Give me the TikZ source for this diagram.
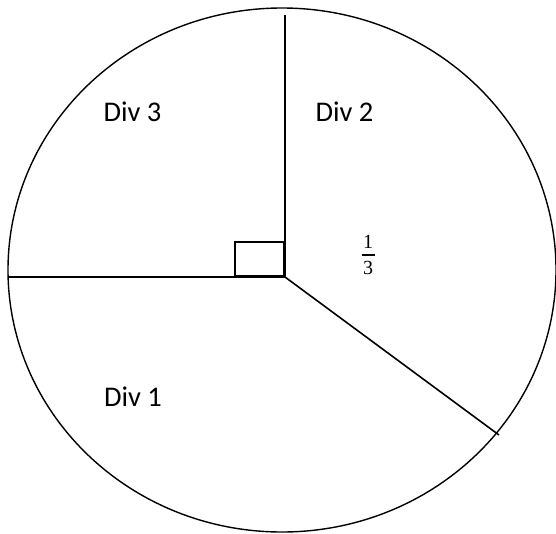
\documentclass[tikz,border=0pt]{standalone}
\usepackage{fontspec}
\setmainfont{Carlito}
\newfontfamily\numfont{Liberation Serif}
\newcommand{\fracdigit}[1]{\hbox to 13pt{\hss\numfont\fontsize{20}{22}\selectfont #1\hss}}
\usetikzlibrary{positioning}
\tikzset{
  rim/.style={draw=black, line width=1.4pt},
  cut/.style={draw=black, line width=1.6pt},
  sq/.style={draw=black, line width=1.7pt, inner sep=0pt,
    minimum width=49pt, minimum height=34pt, anchor=south east},
  lbl/.style={font=\fontsize{28.5}{32}\selectfont, inner sep=0pt, anchor=base},
  frc/.style={inner sep=0pt}
}
\begin{document}
\begin{tikzpicture}[x=1pt,y=-1pt]
  \useasboundingbox (0,0) rectangle (556,533);
  % outline
  \draw[rim] (282,270) ellipse [x radius=274, y radius=262];
  \coordinate (hub) at (285,277);
  \coordinate (top) at (285,15);
  \coordinate (lft) at (9,277);
  \coordinate (low) at (499,435);
  % the three cuts
  \draw[cut] (hub) -- (top);
  \draw[cut] (hub) -- (lft);
  \draw[cut] (hub) -- (low);
  \node[sq] (corner) at (hub) {};
  % labels
  \node[lbl] (div3) at (132.5,121) {Div 3};
  \node[lbl] (div2) at (344.5,121) {Div 2};
  \node[lbl] (div1) at (133,406) {Div 1};
  \node[frc] (third) at (368,255) {$\displaystyle{\fracdigit{1}\above 1.8pt\fracdigit{3}}$};
\end{tikzpicture}
\end{document}
